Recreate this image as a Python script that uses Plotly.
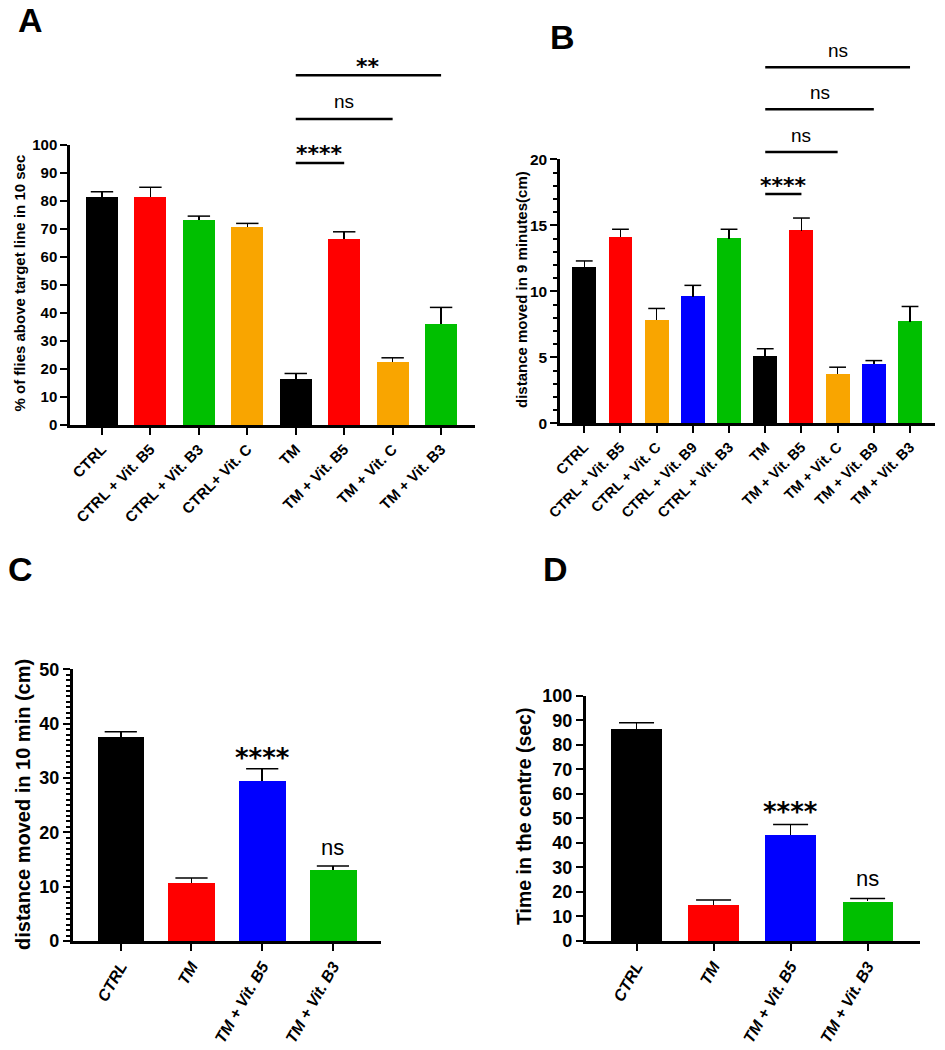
import plotly.graph_objects as go

W, H = 945, 1050

# ---------------- data ----------------
A_labels = ["CTRL", "CTRL + Vit. B5", "CTRL + Vit. B3", "CTRL+ Vit. C",
            "TM", "TM + Vit. B5", "TM + Vit. C", "TM + Vit. B3"]
A_vals = [81.5, 81.6, 73.2, 70.6, 16.4, 66.5, 22.6, 36.0]
A_err = [1.8, 3.3, 1.4, 1.4, 2.0, 2.5, 1.4, 6.0]

B_labels = ["CTRL", "CTRL + Vit. B5", "CTRL + Vit. C", "CTRL + Vit. B9", "CTRL + Vit. B3",
            "TM", "TM + Vit. B5", "TM + Vit. C", "TM + Vit. B9", "TM + Vit. B3"]
B_vals = [11.8, 14.1, 7.8, 9.6, 14.0, 5.1, 14.6, 3.7, 4.5, 7.7]
B_err = [0.5, 0.6, 0.9, 0.85, 0.7, 0.55, 0.95, 0.55, 0.25, 1.15]

C_labels = ["CTRL", "TM", "TM + Vit. B5", "TM + Vit. B3"]
C_vals = [37.4, 10.7, 29.4, 13.1]
C_err = [1.1, 0.9, 2.3, 0.7]

D_labels = ["CTRL", "TM", "TM + Vit. B5", "TM + Vit. B3"]
D_vals = [86.5, 14.8, 43.3, 16.2]
D_err = [2.5, 1.9, 4.2, 1.1]

BLACK, RED, GREEN, ORANGE, BLUE = "#000000", "#FF0000", "#00BF00", "#F9A500", "#0000FF"
A_colors = [BLACK, RED, GREEN, ORANGE, BLACK, RED, ORANGE, GREEN]
B_colors = [BLACK, RED, ORANGE, BLUE, GREEN, BLACK, RED, ORANGE, BLUE, GREEN]
CD_colors = [BLACK, RED, BLUE, GREEN]

FONT = "Liberation Sans, Arial, sans-serif"
STAR_FONT = "DejaVu Sans, sans-serif"


def py(p):
    return 1 - p / H


def pxx(p):
    return p / W


fig = go.Figure()

panels = [
    dict(ax="", labels=A_labels, vals=A_vals, err=A_err, colors=A_colors,
         xdom=[70, 475], ydom=[425, 145], xr=[-0.66, 7.70], ymax=100, dtick=10,
         minor=None, cap=16, tickfs=15, xfs=15, angle=-45, italic=False),
    dict(ax="2", labels=B_labels, vals=B_vals, err=B_err, colors=B_colors,
         xdom=[560, 935], ydom=[423.3, 159.3], xr=[-0.67, 9.69], ymax=20, dtick=5,
         minor=1, cap=12, tickfs=15.5, xfs=14.5, angle=-45, italic=False),
    dict(ax="3", labels=C_labels, vals=C_vals, err=C_err, colors=CD_colors,
         xdom=[72.7, 381], ydom=[941, 669.3], xr=[-0.68, 3.68], ymax=50, dtick=10,
         minor=1, cap=23, tickfs=18, xfs=16, angle=-60, italic=True),
    dict(ax="4", labels=D_labels, vals=D_vals, err=D_err, colors=CD_colors,
         xdom=[585.7, 920], ydom=[941, 695.7], xr=[-0.66, 3.68], ymax=100, dtick=10,
         minor=None, cap=25, tickfs=18, xfs=16, angle=-60, italic=True),
]

for p in panels:
    n = len(p["vals"])
    idx = list(range(n))
    xa, ya = "x" + p["ax"], "y" + p["ax"]
    fig.add_trace(go.Bar(
        x=idx, y=p["vals"], width=0.66, marker=dict(color=p["colors"], line=dict(width=0)),
        error_y=dict(type="data", array=p["err"], arrayminus=[0] * n, symmetric=False,
                     width=0, thickness=1.5, color="black"),
        xaxis=xa, yaxis=ya, showlegend=False, hoverinfo="skip"))
    tops = [v + e for v, e in zip(p["vals"], p["err"])]
    fig.add_trace(go.Scatter(
        x=idx, y=tops, mode="markers",
        marker=dict(symbol="line-ew", size=p["cap"], color="black",
                    line=dict(width=1.5, color="black")),
        xaxis=xa, yaxis=ya, showlegend=False, hoverinfo="skip", cliponaxis=False))

    xkey = "xaxis" + p["ax"]
    ykey = "yaxis" + p["ax"]
    xfont = dict(family=FONT, size=p["xfs"], color="black", weight="bold")
    if p["italic"]:
        xfont["style"] = "italic"
    fig.layout[xkey] = dict(
        domain=[pxx(p["xdom"][0]), pxx(p["xdom"][1])], range=p["xr"], anchor=ya,
        tickmode="array", tickvals=idx, ticktext=p["labels"], tickangle=p["angle"],
        tickfont=xfont, ticks="outside", ticklen=7, tickwidth=2, tickcolor="black",
        showline=True, linewidth=2.5, linecolor="black", showgrid=False, zeroline=False,
        fixedrange=True, automargin=False)
    ydict = dict(
        domain=[py(p["ydom"][0]), py(p["ydom"][1])], range=[0, p["ymax"]], anchor=xa,
        tick0=0, dtick=p["dtick"],
        tickfont=dict(family=FONT, size=p["tickfs"], color="black", weight="bold"),
        ticks="outside", ticklen=7, tickwidth=2, tickcolor="black",
        showline=True, linewidth=2.5, linecolor="black", showgrid=False, zeroline=False,
        fixedrange=True, automargin=False)
    if p["minor"]:
        ydict["minor"] = dict(dtick=p["minor"], tick0=0, ticks="outside", ticklen=4,
                              tickwidth=1.5, tickcolor="black", showgrid=False)
    fig.layout[ykey] = ydict

annotations = []
shapes = []

# panel letters
for letter, x, y in [("A", 30, 20.5), ("B", 562.5, 36.5), ("C", 20, 568.5), ("D", 555.5, 568.5)]:
    annotations.append(dict(text=letter, x=pxx(x), y=py(y), xref="paper", yref="paper",
                            xanchor="center", yanchor="middle", showarrow=False,
                            font=dict(family=FONT, size=34, color="black", weight="bold")))

# y titles
for text, x, y, fs in [("% of flies above target line in 10 sec", 18.5, 283, 15),
                       ("distance moved in 9 minutes(cm)", 521, 290, 15),
                       ("distance moved in 10 min (cm)", 22.5, 804.5, 20),
                       ("Time in the centre (sec)", 523.5, 816.5, 19.5)]:
    annotations.append(dict(text=text, x=pxx(x), y=py(y), xref="paper", yref="paper",
                            textangle=-90, xanchor="center", yanchor="middle", showarrow=False,
                            font=dict(family=FONT, size=fs, color="black", weight="bold")))

# significance brackets (x in category units, y in page pixels)
brackets = [
    ("x", 4, 5, 163, "****", 153.4),
    ("x", 4, 6, 119, "ns", 101.3),
    ("x", 4, 7, 75.3, "**", 66.4),
    ("x2", 5, 6, 194, "****", 185.4),
    ("x2", 5, 7, 152, "ns", 135),
    ("x2", 5, 8, 109.3, "ns", 92.6),
    ("x2", 5, 9, 67.3, "ns", 50.6),
]
for xr, i0, i1, ly, txt, ty in brackets:
    shapes.append(dict(type="line", xref=xr, yref="paper", x0=i0, x1=i1, y0=py(ly), y1=py(ly),
                       line=dict(color="black", width=2.5)))
    star = txt.startswith("*")
    annotations.append(dict(text=txt, x=(i0 + i1) / 2, y=py(ty), xref=xr, yref="paper",
                            xanchor="center", yanchor="middle", showarrow=False,
                            font=dict(family=STAR_FONT if star else FONT, size=22 if star else 19,
                                      color="black", weight="bold" if star else "normal")))

# labels over bars (C, D)
for xr, i, txt, ty in [("x3", 2, "****", 757.8), ("x3", 3, "ns", 847.5),
                       ("x4", 2, "****", 811.8), ("x4", 3, "ns", 878)]:
    star = txt.startswith("*")
    annotations.append(dict(text=txt, x=i, y=py(ty), xref=xr, yref="paper",
                            xanchor="center", yanchor="middle", showarrow=False,
                            font=dict(family=STAR_FONT if star else FONT, size=26 if star else 22,
                                      color="black", weight="bold" if star else "normal")))

fig.update_layout(
    template="none",
    width=W, height=H, margin=dict(l=0, r=0, t=0, b=0, pad=0, autoexpand=False),
    paper_bgcolor="white", plot_bgcolor="white",
    annotations=annotations, shapes=shapes, bargap=0,
    font=dict(family=FONT, color="black"),
)

fig.write_html("out.html", config={"displayModeBar": False},
               post_script="document.body.style.margin='0';")
